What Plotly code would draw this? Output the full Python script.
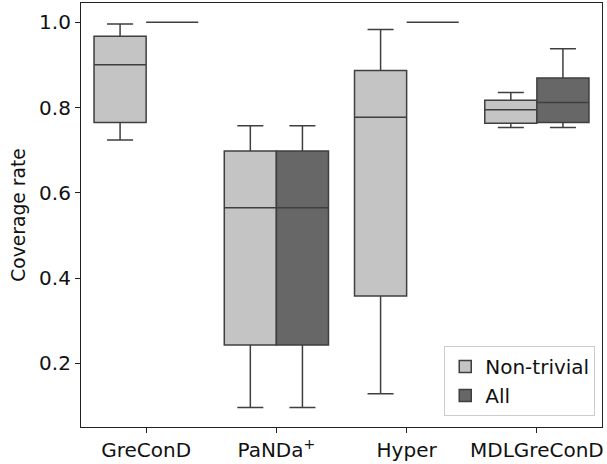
import plotly.graph_objects as go

categories = ["GreConD", "PaNDa<sup>+</sup>", "Hyper", "MDLGreConD"]

# Non-trivial series stats
nt_low = [0.724, 0.097, 0.129, 0.753]
nt_q1 = [0.765, 0.243, 0.358, 0.763]
nt_med = [0.900, 0.565, 0.777, 0.795]
nt_q3 = [0.967, 0.698, 0.887, 0.817]
nt_high = [0.996, 0.757, 0.983, 0.835]

# All series stats
all_low = [1.0, 0.097, 1.0, 0.753]
all_q1 = [1.0, 0.243, 1.0, 0.765]
all_med = [1.0, 0.565, 1.0, 0.812]
all_q3 = [1.0, 0.698, 1.0, 0.869]
all_high = [1.0, 0.757, 1.0, 0.938]

y_ticks = [0.2, 0.4, 0.6, 0.8, 1.0]

line_col = "#3f3f3f"
fig = go.Figure()
fig.add_trace(go.Box(
    name="Non-trivial", x=categories,
    lowerfence=nt_low, q1=nt_q1, median=nt_med, q3=nt_q3, upperfence=nt_high,
    fillcolor="#c4c4c4", line=dict(color=line_col, width=1.5),
    whiskerwidth=0.5, boxpoints=False,
))
fig.add_trace(go.Box(
    name="All", x=categories,
    lowerfence=all_low, q1=all_q1, median=all_med, q3=all_q3, upperfence=all_high,
    fillcolor="#676767", line=dict(color=line_col, width=1.5),
    whiskerwidth=0.5, boxpoints=False,
))

font = dict(family="DejaVu Sans", size=20, color="#111")
title_font = dict(family="DejaVu Sans", size=18.7, color="#111")
fig.update_layout(
    width=607, height=464,
    margin=dict(l=81, r=5, t=2, b=36),
    paper_bgcolor="white", plot_bgcolor="white",
    boxmode="group", boxgap=0.2, boxgroupgap=0,
    font=font,
    showlegend=True,
    legend=dict(
        x=0.987, y=0.026, xanchor="right", yanchor="bottom",
        bgcolor="white", bordercolor="#cccccc", borderwidth=1,
        font=font, tracegroupgap=0,
    ),
    xaxis=dict(
        type="category", range=[-0.5, 3.5],
        showline=True, linecolor="#222", linewidth=1.2, mirror=True,
        ticks="outside", ticklen=5, tickcolor="#222",
        showgrid=False, zeroline=False, tickfont=font,
    ),
    yaxis=dict(
        range=[0.051, 1.045],
        tickvals=y_ticks, ticktext=[f"{v:.1f}" for v in y_ticks],
        showline=True, linecolor="#222", linewidth=1.2, mirror=True,
        ticks="outside", ticklen=5, tickcolor="#222",
        showgrid=False, zeroline=False, tickfont=font,
        title=dict(text="Coverage rate", font=title_font, standoff=8),
    ),
)

fig.write_html("out.html")
